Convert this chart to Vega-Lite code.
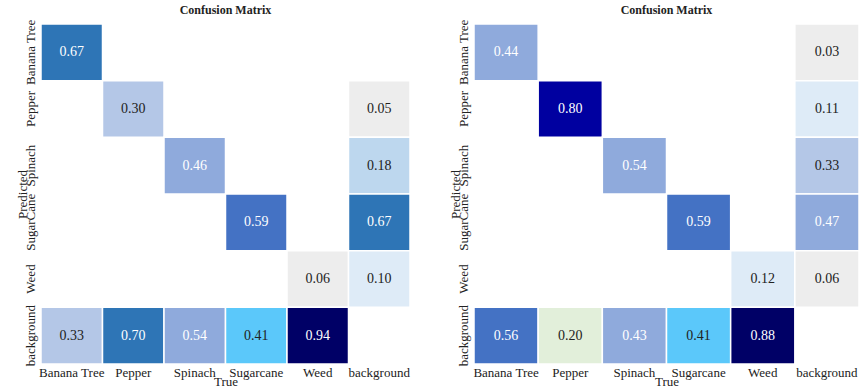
{
  "$schema": "https://vega.github.io/schema/vega-lite/v6.json",
  "background": "white",
  "padding": {"left": 15, "top": 4, "right": 5, "bottom": 0},
  "spacing": 37,
  "config": {
    "view": {"stroke": null},
    "font": "Liberation Serif",
    "title": {"fontSize": 12, "fontWeight": "bold", "font": "Liberation Serif", "offset": 2, "color": "#222"},
    "axis": {
      "domain": false, "ticks": false, "grid": false,
      "labelFont": "Liberation Serif", "labelFontSize": 13, "labelColor": "#222",
      "titleFont": "Liberation Serif", "titleFontSize": 13, "titleFontWeight": "normal", "titleColor": "#222"
    }
  },
  "datasets": {
    "a": [
      {"true": "Banana Tree", "pred": "Banana Tree", "v": 0.67, "label": "0.67"},
      {"true": "Pepper", "pred": "Pepper", "v": 0.30, "label": "0.30"},
      {"true": "background", "pred": "Pepper", "v": 0.05, "label": "0.05"},
      {"true": "Spinach", "pred": "Spinach", "v": 0.46, "label": "0.46"},
      {"true": "background", "pred": "Spinach", "v": 0.18, "label": "0.18"},
      {"true": "Sugarcane", "pred": "SugarCane", "v": 0.59, "label": "0.59"},
      {"true": "background", "pred": "SugarCane", "v": 0.67, "label": "0.67"},
      {"true": "Weed", "pred": "Weed", "v": 0.06, "label": "0.06"},
      {"true": "background", "pred": "Weed", "v": 0.10, "label": "0.10"},
      {"true": "Banana Tree", "pred": "background", "v": 0.33, "label": "0.33"},
      {"true": "Pepper", "pred": "background", "v": 0.70, "label": "0.70"},
      {"true": "Spinach", "pred": "background", "v": 0.54, "label": "0.54"},
      {"true": "Sugarcane", "pred": "background", "v": 0.41, "label": "0.41"},
      {"true": "Weed", "pred": "background", "v": 0.94, "label": "0.94"}
    ],
    "b": [
      {"true": "Banana Tree", "pred": "Banana Tree", "v": 0.44, "label": "0.44"},
      {"true": "background", "pred": "Banana Tree", "v": 0.03, "label": "0.03"},
      {"true": "Pepper", "pred": "Pepper", "v": 0.80, "label": "0.80"},
      {"true": "background", "pred": "Pepper", "v": 0.11, "label": "0.11"},
      {"true": "Spinach", "pred": "Spinach", "v": 0.54, "label": "0.54"},
      {"true": "background", "pred": "Spinach", "v": 0.33, "label": "0.33"},
      {"true": "Sugarcane", "pred": "SugarCane", "v": 0.59, "label": "0.59"},
      {"true": "background", "pred": "SugarCane", "v": 0.47, "label": "0.47"},
      {"true": "Weed", "pred": "Weed", "v": 0.12, "label": "0.12"},
      {"true": "background", "pred": "Weed", "v": 0.06, "label": "0.06"},
      {"true": "Banana Tree", "pred": "background", "v": 0.56, "label": "0.56"},
      {"true": "Pepper", "pred": "background", "v": 0.20, "label": "0.20"},
      {"true": "Spinach", "pred": "background", "v": 0.43, "label": "0.43"},
      {"true": "Sugarcane", "pred": "background", "v": 0.41, "label": "0.41"},
      {"true": "Weed", "pred": "background", "v": 0.88, "label": "0.88"}
    ]
  },
  "hconcat": [
    {
      "title": "Confusion Matrix",
      "width": 369, "height": 340,
      "data": {"name": "a"},
      "encoding": {
        "x": {"field": "true", "type": "nominal", "title": "True",
          "scale": {"domain": ["Banana Tree", "Pepper", "Spinach", "Sugarcane", "Weed", "background"], "paddingInner": 0, "paddingOuter": 0},
          "axis": {"labelAngle": 0, "labelPadding": 2, "titlePadding": -4}},
        "y": {"field": "pred", "type": "nominal", "title": "Predicted",
          "scale": {"domain": ["Banana Tree", "Pepper", "Spinach", "SugarCane", "Weed", "background"], "paddingInner": 0, "paddingOuter": 0},
          "axis": {"labelAngle": -90, "labelAlign": "center", "labelBaseline": "bottom", "labelPadding": 4, "titlePadding": -5}}
      },
      "layer": [
        {"mark": {"type": "rect", "stroke": "white", "strokeWidth": 1.5},
         "encoding": {"color": {"field": "label", "type": "nominal", "legend": null,
           "scale": {
             "domain": ["0.03","0.05","0.06","0.10","0.11","0.12","0.18","0.20","0.30","0.33","0.41","0.43","0.44","0.46","0.47","0.54","0.56","0.59","0.67","0.70","0.80","0.88","0.94"],
             "range": ["#ededed","#ededed","#ededed","#deebf7","#deebf7","#deebf7","#bdd7ee","#e2efda","#b4c7e7","#b4c7e7","#5bc8fa","#8faadc","#8faadc","#8faadc","#8faadc","#8faadc","#4472c4","#4472c4","#2e75b6","#2e75b6","#0000a0","#000066","#000066"]}}}},
        {"mark": {"type": "text", "fontSize": 14, "font": "Liberation Serif"},
         "encoding": {"text": {"field": "label"},
           "color": {"condition": {"test": "datum.v > 0.42", "value": "white"}, "value": "#222"}}}
      ]
    },
    {
      "title": "Confusion Matrix",
      "width": 385, "height": 340,
      "data": {"name": "b"},
      "encoding": {
        "x": {"field": "true", "type": "nominal", "title": "True",
          "scale": {"domain": ["Banana Tree", "Pepper", "Spinach", "Sugarcane", "Weed", "background"], "paddingInner": 0, "paddingOuter": 0},
          "axis": {"labelAngle": 0, "labelPadding": 2, "titlePadding": -4}},
        "y": {"field": "pred", "type": "nominal", "title": "Predicted",
          "scale": {"domain": ["Banana Tree", "Pepper", "Spinach", "SugarCane", "Weed", "background"], "paddingInner": 0, "paddingOuter": 0},
          "axis": {"labelAngle": -90, "labelAlign": "center", "labelBaseline": "bottom", "labelPadding": 4, "titlePadding": -5}}
      },
      "layer": [
        {"mark": {"type": "rect", "stroke": "white", "strokeWidth": 1.5},
         "encoding": {"color": {"field": "label", "type": "nominal", "legend": null,
           "scale": {
             "domain": ["0.03","0.05","0.06","0.10","0.11","0.12","0.18","0.20","0.30","0.33","0.41","0.43","0.44","0.46","0.47","0.54","0.56","0.59","0.67","0.70","0.80","0.88","0.94"],
             "range": ["#ededed","#ededed","#ededed","#deebf7","#deebf7","#deebf7","#bdd7ee","#e2efda","#b4c7e7","#b4c7e7","#5bc8fa","#8faadc","#8faadc","#8faadc","#8faadc","#8faadc","#4472c4","#4472c4","#2e75b6","#2e75b6","#0000a0","#000066","#000066"]}}}},
        {"mark": {"type": "text", "fontSize": 14, "font": "Liberation Serif"},
         "encoding": {"text": {"field": "label"},
           "color": {"condition": {"test": "datum.v > 0.42", "value": "white"}, "value": "#222"}}}
      ]
    }
  ]
}
